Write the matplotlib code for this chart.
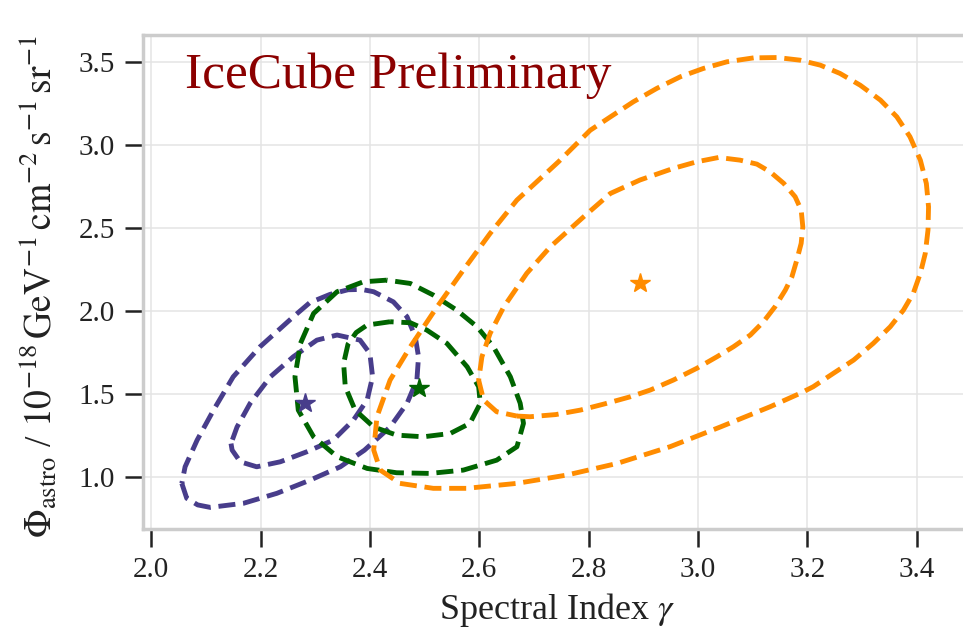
import numpy as np
import matplotlib

matplotlib.use("Agg")
import matplotlib.pyplot as plt

plt.rcParams["font.family"] = ["Liberation Serif", "DejaVu Serif"]
plt.rcParams["mathtext.fontset"] = "stix"

# Contours (gamma, phi)
purple_outer_x = [2.056, 2.065, 2.085, 2.108, 2.169, 2.23, 2.291, 2.346, 2.39, 2.437,
                  2.468, 2.486, 2.489, 2.483, 2.468, 2.443, 2.407, 2.385, 2.36, 2.327,
                  2.29, 2.26, 2.199, 2.15, 2.114, 2.084, 2.062, 2.056]
purple_outer_y = [0.96, 0.87, 0.83, 0.815, 0.84, 0.9, 0.98, 1.06, 1.16, 1.30,
                  1.443, 1.583, 1.724, 1.845, 1.965, 2.055, 2.116, 2.13, 2.128, 2.10,
                  2.05, 1.965, 1.784, 1.603, 1.402, 1.221, 1.06, 0.96]

purple_inner_x = [2.146, 2.148, 2.163, 2.193, 2.236, 2.285, 2.333, 2.37, 2.395, 2.405,
                  2.40, 2.382, 2.34, 2.303, 2.26, 2.218, 2.181, 2.157, 2.146]
purple_inner_y = [1.20, 1.161, 1.09, 1.06, 1.09, 1.151, 1.221, 1.342, 1.463, 1.603,
                  1.744, 1.824, 1.855, 1.824, 1.724, 1.603, 1.443, 1.30, 1.20]

green_outer_x = [2.431, 2.388, 2.34, 2.297, 2.273, 2.263, 2.269, 2.297, 2.34, 2.395,
                 2.449, 2.51, 2.571, 2.632, 2.669, 2.681, 2.675, 2.657, 2.626, 2.596,
                 2.559, 2.516, 2.474, 2.431]
green_outer_y = [2.186, 2.176, 2.116, 1.985, 1.804, 1.603, 1.402, 1.241, 1.121, 1.05,
                 1.024, 1.02, 1.04, 1.10, 1.181, 1.322, 1.443, 1.603, 1.784, 1.905,
                 2.005, 2.096, 2.166, 2.186]

green_inner_x = [2.437, 2.395, 2.375, 2.36, 2.352, 2.355, 2.373, 2.407, 2.449, 2.498,
                 2.547, 2.583, 2.602, 2.599, 2.578, 2.541, 2.504, 2.474, 2.437]
green_inner_y = [1.935, 1.915, 1.87, 1.80, 1.684, 1.543, 1.402, 1.30, 1.251, 1.241,
                 1.261, 1.322, 1.443, 1.543, 1.663, 1.804, 1.885, 1.929, 1.935]

orange_outer_x = [3.102, 3.053, 3.01, 2.968, 2.925, 2.882, 2.84, 2.803, 2.745, 2.669,
                  2.62, 2.571, 2.523, 2.474, 2.437, 2.413, 2.407, 2.419, 2.455, 2.516,
                  2.577, 2.669, 2.76, 2.852, 2.949, 3.041, 3.132, 3.187, 3.211, 3.248,
                  3.285, 3.321, 3.352, 3.376, 3.394, 3.407, 3.416, 3.421, 3.422, 3.418,
                  3.407, 3.388, 3.364, 3.334, 3.297, 3.26, 3.224, 3.187, 3.145, 3.102]
orange_outer_y = [3.527, 3.503, 3.463, 3.413, 3.343, 3.262, 3.171, 3.09, 2.90, 2.669,
                  2.468, 2.247, 2.025, 1.784, 1.583, 1.362, 1.161, 1.04, 0.96, 0.93,
                  0.93, 0.96, 1.01, 1.08, 1.181, 1.30, 1.422, 1.503, 1.543, 1.624,
                  1.704, 1.805, 1.905, 2.005, 2.106, 2.227, 2.347, 2.488, 2.628, 2.769,
                  2.91, 3.051, 3.171, 3.272, 3.362, 3.433, 3.483, 3.513, 3.529, 3.527]

orange_inner_x = [2.669, 2.693, 2.74, 2.785, 2.83, 2.876, 2.913, 2.955, 2.998, 3.035,
                  3.065, 3.096, 3.12, 3.141, 3.16, 3.172, 3.181, 3.189, 3.192, 3.189,
                  3.178, 3.157, 3.132, 3.108, 3.077, 3.038, 2.998, 2.955, 2.894, 2.84,
                  2.791, 2.73, 2.687, 2.645, 2.62, 2.605, 2.599, 2.608, 2.632, 2.669]
orange_inner_y = [1.366, 1.362, 1.375, 1.402, 1.44, 1.482, 1.523, 1.583, 1.654, 1.724,
                  1.784, 1.855, 1.935, 2.025, 2.126, 2.206, 2.307, 2.408, 2.508, 2.609,
                  2.689, 2.77, 2.84, 2.886, 2.91, 2.926, 2.90, 2.86, 2.79, 2.709,
                  2.568, 2.387, 2.227, 2.025, 1.865, 1.724, 1.583, 1.463, 1.392, 1.366]

best_fit_x = [2.282, 2.489, 2.894]
best_fit_y = [1.443, 1.533, 2.17]
colors = ["#483d8b", "#006400", "#ff8c00"]

fig = plt.figure(figsize=(9.63, 6.36), dpi=100)
ax = fig.add_axes([0.1485, 0.1678, 0.86, 0.7772])

contours = [
    (purple_outer_x, purple_outer_y, colors[0]),
    (purple_inner_x, purple_inner_y, colors[0]),
    (green_outer_x, green_outer_y, colors[1]),
    (green_inner_x, green_inner_y, colors[1]),
    (orange_outer_x, orange_outer_y, colors[2]),
    (orange_inner_x, orange_inner_y, colors[2]),
]
for cx, cy, c in contours:
    ax.plot(cx, cy, ls="--", lw=3.5, color=c, dashes=(3.5, 1.6))

for bx, by, c in zip(best_fit_x, best_fit_y, colors):
    ax.plot(bx, by, marker="*", ms=15, color=c, ls="none")

ax.set_xlim(1.985, 3.5)
ax.set_ylim(0.683, 3.665)
ax.set_xticks(np.arange(2.0, 3.41, 0.2))
ax.set_yticks(np.arange(1.0, 3.51, 0.5))
ax.grid(True, color="#e4e4e4", lw=1.1)
ax.set_axisbelow(True)

for side in ["left", "bottom", "top", "right"]:
    ax.spines[side].set_color("#cccccc")
    ax.spines[side].set_linewidth(2.5)

ax.tick_params(axis="both", which="major", direction="out", length=13, width=1.8,
               color="#222222", labelsize=21, labelcolor="#222222", pad=7,
               top=False, right=False)

ax.set_xlabel(r"Spectral Index $\gamma$", fontsize=26, color="#222222", labelpad=6)
ax.set_ylabel(r"$\Phi_{\rm astro}$ / $10^{-18}\,\mathrm{GeV}^{-1}\,\mathrm{cm}^{-2}\,"
              r"\mathrm{s}^{-1}\,\mathrm{sr}^{-1}$", fontsize=27, color="#222222")
ax.yaxis.set_label_coords(-0.1, 0.49)

ax.text(0.051, 0.893, "IceCube Preliminary", transform=ax.transAxes,
        fontsize=37, color="#8b0000", va="baseline", ha="left")

fig.savefig("out.png", dpi=100)
